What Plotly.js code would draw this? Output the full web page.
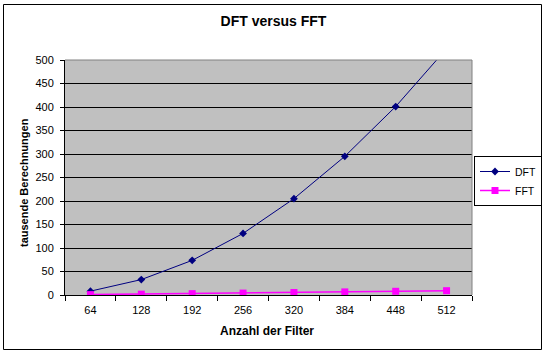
<!DOCTYPE html>
<html>
<head>
<meta charset="utf-8">
<script src="https://cdn.plot.ly/plotly-3.0.1.min.js"></script>
<style>html,body{margin:0;padding:0;background:#fff;}#chart{width:547px;height:355px;}</style>
</head>
<body>
<div id="chart"></div>
<script>
var categories = ["64", "128", "192", "256", "320", "384", "448", "512"];
var dftValues = [8.2, 32.8, 73.7, 131, 205, 295, 401, 524];
var fftValues = [0.8, 1.8, 2.9, 4.1, 5.3, 6.6, 7.9, 9.2];
var yTicks = [0, 50, 100, 150, 200, 250, 300, 350, 400, 450, 500];

var W = 407, H = 235, L = 65, T = 60;
function px(x) { return (x - L) / W; }
function py(y) { return (T + H - y) / H; }

var traces = [
  {x: categories, y: dftValues, name: "DFT", type: "scatter", mode: "lines+markers",
   line: {color: "#000080", width: 1}, marker: {symbol: "diamond", size: 6, color: "#000080"}},
  {x: categories, y: fftValues, name: "FFT", type: "scatter", mode: "lines+markers",
   line: {color: "#FF00FF", width: 1.5}, marker: {symbol: "square", size: 7, color: "#FF00FF"}}
];

var layout = {
  width: 547, height: 355,
  margin: {l: 65, r: 75, t: 60, b: 60, autoexpand: false},
  paper_bgcolor: "#ffffff",
  plot_bgcolor: "#C0C0C0",
  font: {family: "Arial, 'Liberation Sans', sans-serif", size: 11, color: "#000"},
  title: {text: "<b>DFT versus FFT</b>", font: {size: 14}, x: 0.5, xanchor: "center", y: 1 - 21/355, yanchor: "middle"},
  showlegend: true,
  legend: {x: px(474), y: py(156), xanchor: "left", yanchor: "top", bordercolor: "#000", borderwidth: 1,
           bgcolor: "#fff", font: {size: 10.5}, itemwidth: 30, tracegroupgap: 0},
  xaxis: {type: "category", categoryorder: "array", categoryarray: categories,
          showline: true, linecolor: "#000", linewidth: 1, ticks: "outside", ticklen: 5,
          tickcolor: "#000", tickson: "boundaries", showgrid: false, zeroline: false,
          range: [-0.5, 7.5], fixedrange: true, ticklabelstandoff: 5},
  yaxis: {range: [0, 500], tickvals: yTicks, ticktext: yTicks.map(String),
          showline: true, linecolor: "#000", linewidth: 1, ticks: "outside", ticklen: 4,
          tickcolor: "#000", showgrid: true, gridcolor: "#000", gridwidth: 1, zeroline: false,
          ticklabelstandoff: 4},
  annotations: [
    {text: "<b>Anzahl der Filter</b>", xref: "paper", yref: "paper", x: px(267), y: py(331),
     xanchor: "center", yanchor: "middle", showarrow: false, font: {size: 12}},
    {text: "<b>tausende Berechnungen</b>", xref: "paper", yref: "paper", x: px(24), y: py(183),
     xanchor: "center", yanchor: "middle", showarrow: false, textangle: -90, font: {size: 11}}
  ],
  shapes: [
    {type: "line", xref: "paper", yref: "paper", x0: 0, x1: 1, y0: 1, y1: 1, line: {color: "#808080", width: 1}},
    {type: "line", xref: "paper", yref: "paper", x0: 1, x1: 1, y0: 0, y1: 1, line: {color: "#808080", width: 1}},
    {type: "rect", xref: "paper", yref: "paper", x0: px(3.5), x1: px(541.5), y0: py(4.5), y1: py(349.5),
     line: {color: "#000", width: 1}, fillcolor: "rgba(0,0,0,0)"}
  ]
};

Plotly.newPlot("chart", traces, layout, {displayModeBar: false, staticPlot: true});
</script>
</body>
</html>
